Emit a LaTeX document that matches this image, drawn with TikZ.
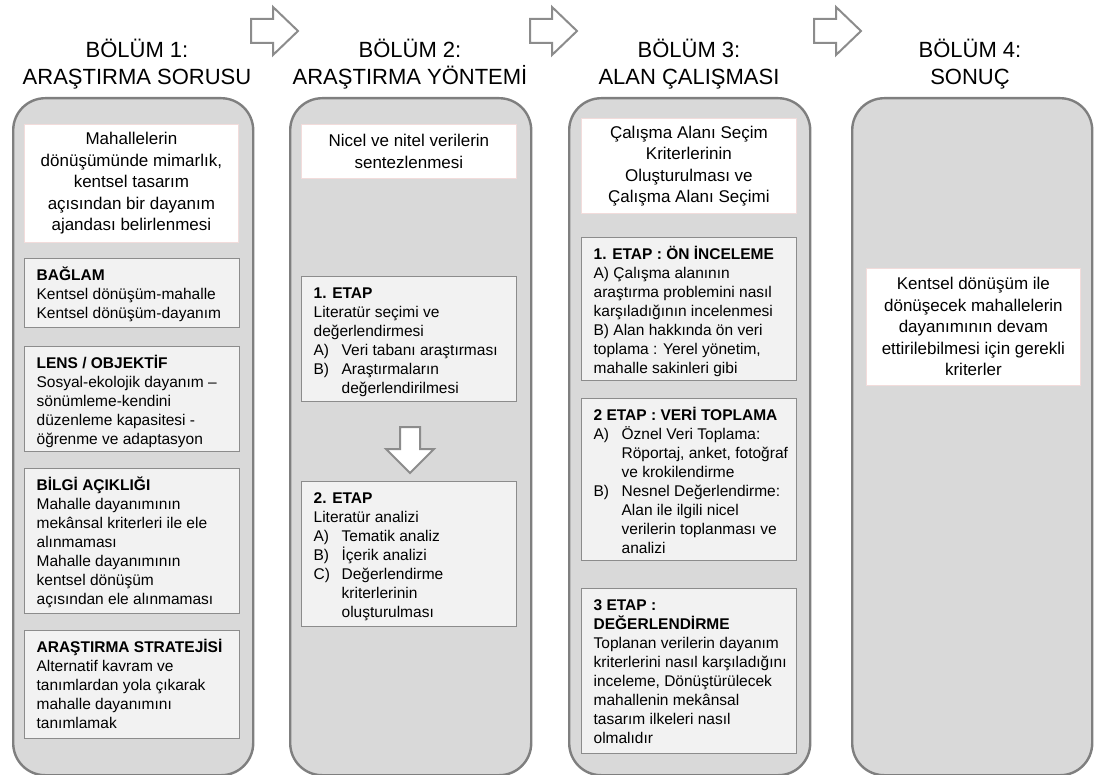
\documentclass[tikz,border=0pt]{standalone}
\usepackage{fontspec}
\setmainfont{Liberation Sans}
\definecolor{panelfill}{HTML}{D9D9D9}
\definecolor{panelline}{HTML}{7F7F7F}
\definecolor{boxfill}{HTML}{F2F2F2}
\definecolor{boxline}{HTML}{8C8C8C}
\definecolor{pinkline}{HTML}{F2DCDB}
\definecolor{arrowline}{HTML}{8C8C8C}

% top-aligned text block of a given height (pt) and width (pt)
\newcommand\gtext[3]{\parbox[t][#1pt][t]{#2pt}{\raggedright\rule{0pt}{22pt}#3}}
% list item with hanging indent
\newcommand\li[2]{\par\hangindent=28pt\hangafter=1\noindent\makebox[28pt][l]{#1}#2}
% hollow block arrow pointing right, left end of shaft at (#1,19)
\newcommand\rightblock[1]{%
  \draw[blockarrow] (#1,19) -- ++(22,0) -- ++(0,-12) -- ++(25,24) -- ++(-25,24)
    -- ++(0,-12) -- ++(-22,0) -- cycle;}

\begin{document}
\begin{tikzpicture}[x=1pt,y=-1pt,
  panel/.style={draw=panelline, fill=panelfill, line width=2.4pt,
    rounded corners=32pt, anchor=north west, inner sep=0pt},
  title/.style={align=center, font=\fontsize{22}{26.5}\selectfont},
  wbox/.style={draw=pinkline, fill=white, line width=0.8pt, align=center,
    anchor=north west, inner sep=0pt, font=\fontsize{17}{21.5}\selectfont},
  gbox/.style={draw=boxline, fill=boxfill, line width=1.3pt,
    anchor=north west, inner sep=0pt, font=\fontsize{15.5}{19}\selectfont},
  blockarrow/.style={draw=arrowline, fill=white, line width=2pt, line join=miter}]

\useasboundingbox (0,0) rectangle (1094,775);

% column panels
\node[panel, minimum width=240pt, minimum height=677pt] (p1) at (12,97) {};
\node[panel, minimum width=241pt, minimum height=677pt] (p2) at (289,97) {};
\node[panel, minimum width=241pt, minimum height=677pt] (p3) at (568,97) {};
\node[panel, minimum width=240pt, minimum height=677pt] (p4) at (851,97) {};

% headings
\node[title] (t1) at (137,64) {BÖLÜM 1:\\ARAŞTIRMA SORUSU};
\node[title] (t2) at (410,64) {BÖLÜM 2:\\ARAŞTIRMA YÖNTEMİ};
\node[title] (t3) at (689,64) {BÖLÜM 3:\\ALAN ÇALIŞMASI};
\node[title] (t4) at (970,64) {BÖLÜM 4:\\SONUÇ};

% arrows between headings
\rightblock{251}
\rightblock{530}
\rightblock{814}

% column 1
\node[wbox, minimum width=214pt, minimum height=118pt] (w1) at (24,124)
  {Mahallelerin\\dönüşümünde mimarlık,\\kentsel tasarım\\açısından bir dayanım\\ajandası belirlenmesi};
\node[gbox] (bag) at (24,258) {\hspace*{12pt}\gtext{69}{201}{%
  \textbf{BAĞLAM}\\Kentsel dönüşüm-mahalle\\Kentsel dönüşüm-dayanım}\hspace*{2pt}};
\node[gbox] (lens) at (24,346) {\hspace*{12pt}\gtext{105}{201}{%
  \textbf{LENS / OBJEKTİF}\\Sosyal-ekolojik dayanım –\\sönümleme-kendini\\düzenleme kapasitesi -\\öğrenme ve adaptasyon}\hspace*{2pt}};
\node[gbox] (bilgi) at (24,468) {\hspace*{12pt}\gtext{145}{201}{%
  \textbf{BİLGİ AÇIKLIĞI}\\Mahalle dayanımının\\mekânsal kriterleri ile ele\\alınmaması\\Mahalle dayanımının\\kentsel dönüşüm\\açısından ele alınmaması}\hspace*{2pt}};
\node[gbox] (strat) at (24,630) {\hspace*{12pt}\gtext{108}{201}{%
  \textbf{ARAŞTIRMA STRATEJİSİ}\\Alternatif kavram ve\\tanımlardan yola çıkarak\\mahalle dayanımını\\tanımlamak}\hspace*{2pt}};

% column 2
\node[wbox, minimum width=215pt, minimum height=54pt] (w2) at (301,124)
  {Nicel ve nitel verilerin\\sentezlenmesi};
\node[gbox] (e21) at (301,276) {\hspace*{12pt}\gtext{125}{201}{%
  \textbf{1. ETAP}\\Literatür seçimi ve\\değerlendirmesi%
  \li{A)}{Veri tabanı araştırması}%
  \li{B)}{Araştırmaların\newline değerlendirilmesi}}\hspace*{2pt}};
\node[gbox] (e22) at (301,481) {\hspace*{12pt}\gtext{145}{201}{%
  \textbf{2. ETAP}\\Literatür analizi%
  \li{A)}{Tematik analiz}%
  \li{B)}{İçerik analizi}%
  \li{C)}{Değerlendirme\newline kriterlerinin\newline oluşturulması}}\hspace*{2pt}};
\draw[blockarrow] (400,427) -- (420,427) -- (420,449) -- (434,449) -- (410,473)
  -- (386,449) -- (400,449) -- cycle;

% column 3
\node[wbox, minimum width=215pt, minimum height=95pt] (w3) at (581,118)
  {Çalışma Alanı Seçim\\Kriterlerinin\\Oluşturulması ve\\Çalışma Alanı Seçimi};
\node[gbox] (e31) at (581,237) {\hspace*{12pt}\gtext{143}{201}{%
  \textbf{1. ETAP : ÖN İNCELEME}\\A) Çalışma alanının\\araştırma problemini nasıl\\karşıladığının incelenmesi\\B) Alan hakkında ön veri\\toplama : Yerel yönetim,\\mahalle sakinleri gibi}\hspace*{2pt}};
\node[gbox] (e32) at (581,398) {\hspace*{12pt}\gtext{162}{201}{%
  \textbf{2 ETAP : VERİ TOPLAMA}%
  \li{A)}{Öznel Veri Toplama:\newline Röportaj, anket, fotoğraf\newline ve krokilendirme}%
  \li{B)}{Nesnel Değerlendirme:\newline Alan ile ilgili nicel\newline verilerin toplanması ve\newline analizi}}\hspace*{2pt}};
\node[gbox] (e33) at (581,588) {\hspace*{12pt}\gtext{165}{201}{%
  \textbf{3 ETAP :}\\\textbf{DEĞERLENDİRME}\\Toplanan verilerin dayanım\\kriterlerini nasıl karşıladığını\\inceleme, Dönüştürülecek\\mahallenin mekânsal\\tasarım ilkeleri nasıl\\olmalıdır}\hspace*{2pt}};

% column 4
\node[wbox, minimum width=214pt, minimum height=117pt] (w4) at (866,268)
  {Kentsel dönüşüm ile\\dönüşecek mahallelerin\\dayanımının devam\\ettirilebilmesi için gerekli\\kriterler};

\end{tikzpicture}
\end{document}
